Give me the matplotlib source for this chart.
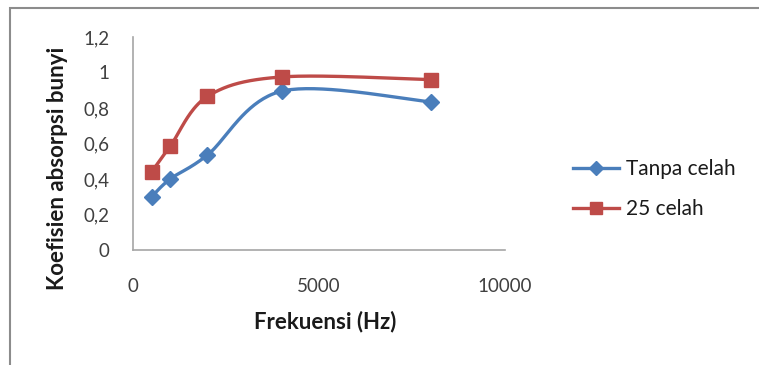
import numpy as np
import matplotlib
matplotlib.use("Agg")
import matplotlib.pyplot as plt
from matplotlib.patches import Rectangle
from matplotlib.lines import Line2D

freq = [500, 1000, 2000, 4000, 8000]
tanpa_celah = [0.30, 0.40, 0.535, 0.895, 0.835]
celah_25 = [0.44, 0.585, 0.865, 0.975, 0.96]
series_names = ["Tanpa celah", "25 celah"]
x_ticks = [0, 5000, 10000]
y_ticks = [0, 0.2, 0.4, 0.6, 0.8, 1.0, 1.2]
y_tick_labels = ["0", "0,2", "0,4", "0,6", "0,8", "1", "1,2"]

plt.rcParams['font.family'] = ['Lato', 'DejaVu Sans']

W, H = 759, 365
fig = plt.figure(figsize=(W / 100, H / 100), dpi=100)
ax_l, ax_r, ax_t, ax_b = 133, 505, 37, 250
ax = fig.add_axes([ax_l / W, 1 - ax_b / H, (ax_r - ax_l) / W, (ax_b - ax_t) / H])

# outer border
fig.add_artist(Rectangle((10 / W, -0.05), 1.1, (H - 8) / H + 0.05,
                         transform=fig.transFigure, fill=False,
                         edgecolor='#8c8c8c', linewidth=1.5))

ax.set_xlim(0, 10000)
ax.set_ylim(0, 1.2)
pxw, pxh = ax_r - ax_l, ax_b - ax_t


def smooth(xs, ys, n=40):
    P = np.column_stack([np.asarray(xs) / 10000 * pxw, np.asarray(ys) / 1.2 * pxh])
    P = np.vstack([P[0], P, P[-1]])
    out = []
    for i in range(1, len(P) - 2):
        p0, p1, p2, p3 = P[i - 1], P[i], P[i + 1], P[i + 2]
        t = np.linspace(0, 1, n)[:, None]
        c = 0.5 * ((2 * p1) + (-p0 + p2) * t + (2 * p0 - 5 * p1 + 4 * p2 - p3) * t ** 2
                   + (-p0 + 3 * p1 - 3 * p2 + p3) * t ** 3)
        out.append(c)
    C = np.vstack(out)
    return C[:, 0] / pxw * 10000, C[:, 1] / pxh * 1.2


blue = '#4a7ebb'
red = '#be4b48'
for ys, col, mk, ms in [(tanpa_celah, blue, 'D', 8.5), (celah_25, red, 's', 10.5)]:
    sx, sy = smooth(freq, ys)
    ax.plot(sx, sy, color=col, linewidth=2.4, solid_capstyle='round', zorder=2)
    ax.plot(freq, ys, linestyle='none', marker=mk, markersize=ms, color=col,
            markeredgecolor=col, zorder=3)

for s in ['top', 'right']:
    ax.spines[s].set_visible(False)
for s in ['left', 'bottom']:
    ax.spines[s].set_color('#a6a6a6')
    ax.spines[s].set_linewidth(1.2)

ax.set_xticks(x_ticks)
ax.set_xticklabels([str(v) for v in x_ticks])
ax.set_yticks(y_ticks)
ax.set_yticklabels(y_tick_labels)
ax.tick_params(axis='both', length=0, labelsize=13.5, labelcolor='#404040')
ax.tick_params(axis='y', pad=17)
ax.tick_params(axis='x', pad=20)

fig.text(325 / W, 1 - 322 / H, "Frekuensi (Hz)", ha='center', va='center',
         fontsize=16, fontweight='bold', color='#1a1a1a')
fig.text(58 / W, 1 - 168 / H, "Koefisien absorpsi bunyi", ha='center', va='center',
         rotation=90, fontsize=16, fontweight='bold', color='#1a1a1a')

handles = [Line2D([], [], color=blue, marker='D', markersize=7, linewidth=2.4),
           Line2D([], [], color=red, marker='s', markersize=8, linewidth=2.4)]
fig.legend(handles, series_names, loc='center left', bbox_to_anchor=(554 / W, 1 - 189 / H),
           frameon=False, fontsize=15, handlelength=2.2, handletextpad=0.35,
           labelspacing=0.95, labelcolor='#1a1a1a')

fig.savefig("out.png", dpi=100)
